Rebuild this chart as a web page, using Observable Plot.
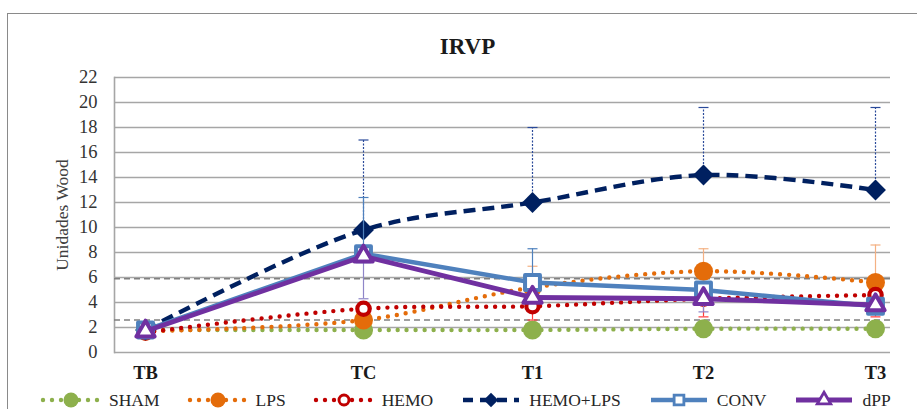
<!DOCTYPE html>
<html>
<head>
<meta charset="utf-8">
<script src="https://cdn.jsdelivr.net/npm/d3@7"></script>
<script src="https://cdn.jsdelivr.net/npm/@observablehq/plot@0.6"></script>
<style>
  html, body { margin: 0; padding: 0; background: #fff; width: 917px; height: 409px; overflow: hidden; }
  #frame { position: absolute; left: 7px; top: 13px; width: 1000px; height: 500px;
           border-left: 1.5px solid #8a8a8a; border-top: 1.5px solid #8a8a8a; }
  #chart { position: absolute; left: 0; top: 0; }
  #legend { position: absolute; left: 40px; top: 392px; height: 16px; display: flex; gap: 27px; align-items: center;
            font-family: "Liberation Serif", serif; font-size: 17.5px; line-height: 16px; color: #262626; }
  .item { display: flex; align-items: center; height: 16px; }
  .item svg { margin-right: 7px; overflow: visible; }
</style>
</head>
<body>
<div id="frame"></div>
<div id="chart"></div>
<div id="legend"></div>
<script>
// Time points and groups
const categories = ["TB", "TC", "T1", "T2", "T3"];
const seriesNames = ["SHAM", "LPS", "HEMO", "HEMO+LPS", "CONV", "dPP"];

// Mean values per group (Unidades Wood)
const shamValues    = [1.8, 1.8, 1.8, 1.9, 1.9];
const lpsValues     = [1.7, 2.6, 5.2, 6.5, 5.6];
const hemoValues    = [1.6, 3.5, 3.7, 4.3, 4.6];
const hemoLpsValues = [1.8, 9.8, 12.0, 14.2, 13.0];
const convValues    = [1.8, 7.9, 5.6, 5.0, 3.7];
const dppValues     = [1.7, 7.7, 4.4, 4.3, 3.8];

// Error bar lengths (plus bars go up, minus bars go down)
const lpsPlus     = [null, null, 1.7, 1.8, 3.0];
const hemoMinus   = [null, null, 1.1, 1.45, 1.75];
const hemoLpsPlus = [null, 7.2, 6.0, 5.4, 6.6];
const convPlus    = [null, 4.5, 2.7, null, null];
const dppMinus    = [null, 3.4, null, 1.05, null];

// Reference levels (dashed lines)
const referenceLevels = [5.9, 2.6];
const yTicks = [0, 2, 4, 6, 8, 10, 12, 14, 16, 18, 20, 22];
const chartTitle = "IRVP";
const yLabel = "Unidades Wood";

const seriesValues = [shamValues, lpsValues, hemoValues, hemoLpsValues, convValues, dppValues];
const errorSpecs = [
  ["LPS", lpsPlus, 1],
  ["HEMO", hemoMinus, -1],
  ["HEMO+LPS", hemoLpsPlus, 1],
  ["CONV", convPlus, 1],
  ["dPP", dppMinus, -1]
];

const serif = "Liberation Serif, serif";

const styles = {
  "SHAM":     {color: "#8db04c", width: 4.4, dash: "0 9",  cap: "round", curve: "catmull-rom",
               symbol: "circle", r: 9.5, fill: "#8db04c", mstroke: "none", mwidth: 0,
               lr: 7.5},
  "LPS":      {color: "#e46c0a", width: 4.4, dash: "0 9",  cap: "round", curve: "catmull-rom",
               symbol: "circle", r: 9.5, fill: "#e46c0a", mstroke: "none", mwidth: 0,
               lr: 7.5, err: "#f4b183", errDash: null},
  "HEMO":     {color: "#c00000", width: 4.4, dash: "0 9",  cap: "round", curve: "catmull-rom",
               symbol: "circle", r: 6.2, fill: "#fff", mstroke: "#c00000", mwidth: 4.2,
               lr: 5, err: "#ff3b3b", errDash: null},
  "HEMO+LPS": {color: "#002060", width: 4.4, dash: "12 7", cap: "butt", curve: "catmull-rom",
               symbol: "diamond2", r: 9.4, fill: "#002060", mstroke: "none", mwidth: 0,
               lr: 6.5, err: "#2a4a9a", errDash: "2 1.5"},
  "CONV":     {color: "#4f81bd", width: 4.4, dash: null,   cap: "butt", curve: "linear",
               symbol: "square", r: 8.4, fill: "#fff", mstroke: "#4f81bd", mwidth: 4,
               lr: 5.5, err: "#4f81bd", errDash: null},
  "dPP":      {color: "#7030a0", width: 4.8, dash: null,   cap: "butt", curve: "linear",
               symbol: "triangle", r: 6.8, fill: "#fff", mstroke: "#7030a0", mwidth: 4,
               lr: 5, err: "#8f86c8", errDash: null}
};

const rows = seriesNames.flatMap((s, k) =>
  seriesValues[k].map((v, i) => ({series: s, i, v})));

const errRows = errorSpecs.flatMap(([s, arr, dir]) => {
  const vals = seriesValues[seriesNames.indexOf(s)];
  return arr.map((e, i) => e == null ? null : {series: s, i, v: vals[i], end: vals[i] + dir * e})
            .filter(Boolean);
});

// Horizontal cap for error bars
const capSymbol = {
  draw(context, size) {
    const w = Math.sqrt(size / Math.PI);
    context.moveTo(-w, 0);
    context.lineTo(w, 0);
  }
};

const seriesMarks = seriesNames.flatMap(s => {
  const st = styles[s];
  const data = rows.filter(d => d.series === s);
  const errs = errRows.filter(d => d.series === s);
  const marks = [
    Plot.line(data, {x: "i", y: "v", stroke: st.color, strokeWidth: st.width,
      strokeDasharray: st.dash, strokeLinecap: st.cap, strokeLinejoin: "round", curve: st.curve})
  ];
  if (errs.length) {
    marks.push(
      Plot.ruleX(errs, {x: "i", y1: "v", y2: "end", stroke: st.err, strokeWidth: 1.2,
        strokeDasharray: st.errDash}),
      Plot.dot(errs, {x: "i", y: "end", symbol: capSymbol, r: 5, stroke: st.err,
        strokeWidth: 1.2, fill: "none"})
    );
  }
  marks.push(Plot.dot(data, {x: "i", y: "v", symbol: st.symbol, r: st.r, fill: st.fill,
    stroke: st.mstroke, strokeWidth: st.mwidth, strokeLinejoin: "round"}));
  return marks;
});

const chart = Plot.plot({
  width: 917,
  height: 388,
  marginTop: 77,
  marginBottom: 36,
  marginLeft: 114,
  marginRight: 27,
  style: {fontFamily: serif, fontSize: "17px", background: "transparent", overflow: "visible"},
  x: {type: "linear", domain: [0, 1, 2, 3, 4], range: [145, 363, 532, 703, 875]},
  y: {domain: [0, 22]},
  marks: [
    Plot.ruleY(yTicks.filter(t => t > 0), {stroke: "#a6a6a6", strokeWidth: 1.4}),
    Plot.ruleY([0], {stroke: "#a6a6a6", strokeWidth: 1.6}),
    Plot.frame({anchor: "left", stroke: "#a6a6a6", strokeWidth: 1.6}),
    Plot.ruleY(referenceLevels, {stroke: "#808080", strokeWidth: 1.6, strokeDasharray: "6 4"}),
    Plot.axisY({ticks: yTicks, tickSize: 0, tickPadding: 17, fontSize: 18.5, fontFamily: serif,
      fill: "#333", label: null}),
    Plot.axisX({ticks: [0, 1, 2, 3, 4], tickFormat: i => categories[i], tickSize: 0, tickPadding: 13,
      fontSize: 18.5, fontWeight: "bold", fontFamily: serif, fill: "#1a1a1a", label: null}),
    Plot.text([chartTitle], {text: d => d, frameAnchor: "top", lineAnchor: "middle", textAnchor: "middle",
      dx: -35, dy: -31, fontSize: 23, fontWeight: "bold", fontFamily: serif, fill: "#1a1a1a"}),
    Plot.text([yLabel], {text: d => d, frameAnchor: "left", textAnchor: "middle", lineAnchor: "middle",
      dx: -52, rotate: -90, fontSize: 17.5, fontFamily: serif, fill: "#404040"}),
    ...seriesMarks
  ]
});
document.getElementById("chart").append(chart);

// Legend
const symbolTypes = {circle: d3.symbolCircle, diamond2: d3.symbolDiamond2, square: d3.symbolSquare, triangle: d3.symbolTriangle};
const legend = d3.select("#legend");
seriesNames.forEach(s => {
  const st = styles[s];
  const item = legend.append("div").attr("class", "item");
  const svg = item.append("svg").attr("width", 62).attr("height", 16);
  svg.append("line").attr("x1", 3).attr("x2", 59).attr("y1", 8).attr("y2", 8)
    .attr("stroke", st.color).attr("stroke-width", st.width)
    .attr("stroke-dasharray", s === "HEMO+LPS" ? "10 7" : st.dash)
    .attr("stroke-linecap", st.cap);
  svg.append("path")
    .attr("transform", "translate(31,8)")
    .attr("d", d3.symbol(symbolTypes[st.symbol], Math.PI * st.lr * st.lr)())
    .attr("fill", st.fill).attr("stroke", st.mstroke)
    .attr("stroke-width", st.mwidth ? st.mwidth * 0.7 : 0);
  item.append("span").text(s);
});
</script>
</body>
</html>
